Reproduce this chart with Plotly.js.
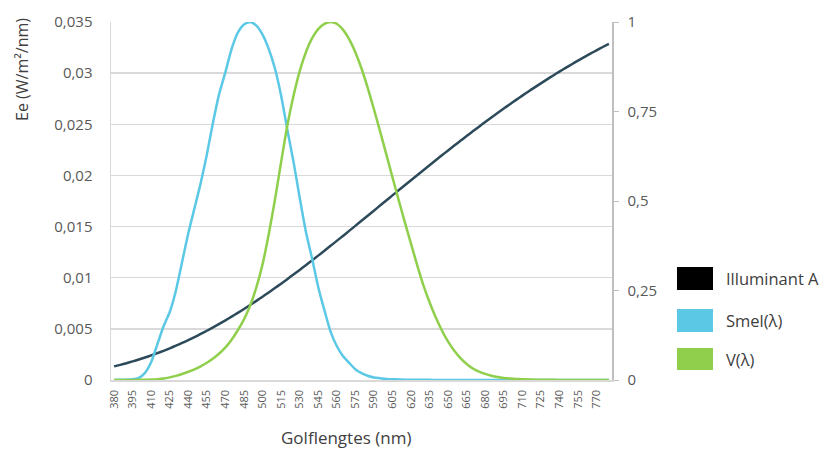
<!DOCTYPE html>
<html>
<head>
<meta charset="utf-8">
<script src="https://cdn.plot.ly/plotly-3.0.1.min.js"></script>
<style>html,body{margin:0;padding:0;background:#fff;}#chart{width:824px;height:450px;}</style>
</head>
<body>
<div id="chart"></div>
<script>
// Wavelengths (nm), 5 nm steps
const wavelengths = [380,385,390,395,400,405,410,415,420,425,430,435,440,445,450,455,460,465,470,475,480,485,490,495,500,505,510,515,520,525,530,535,540,545,550,555,560,565,570,575,580,585,590,595,600,605,610,615,620,625,630,635,640,645,650,655,660,665,670,675,680,685,690,695,700,705,710,715,720,725,730,735,740,745,750,755,760,765,770,775,780];

// Illuminant A, Ee (W/m²/nm) – left axis
const illuminantA = [0.001332,0.001482,0.001644,0.001816,0.002000,0.002196,0.002404,0.002624,0.002855,0.003099,0.003355,0.003623,0.003904,0.004196,0.004500,0.004815,0.005142,0.005481,0.005830,0.006190,0.006561,0.006942,0.007332,0.007732,0.008141,0.008559,0.008985,0.009418,0.009859,0.010307,0.010762,0.011223,0.011689,0.012160,0.012636,0.013116,0.013600,0.014087,0.014577,0.015069,0.015563,0.016059,0.016555,0.017052,0.017550,0.018047,0.018543,0.019038,0.019532,0.020024,0.020514,0.021001,0.021485,0.021966,0.022444,0.022917,0.023387,0.023852,0.024313,0.024768,0.025218,0.025663,0.026103,0.026536,0.026963,0.027385,0.027800,0.028208,0.028610,0.029004,0.029392,0.029773,0.030147,0.030513,0.030872,0.031224,0.031568,0.031904,0.032233,0.032554,0.032868];

// Smel(λ) – right axis
const smel = [0.0,0.0005,0.001,0.002,0.006,0.02,0.05,0.10,0.15,0.19,0.25,0.33,0.41,0.48,0.55,0.63,0.72,0.80,0.86,0.925,0.97,0.993,1.0,0.99,0.965,0.925,0.87,0.795,0.70,0.61,0.51,0.415,0.34,0.26,0.195,0.135,0.095,0.067,0.048,0.03,0.019,0.012,0.007,0.005,0.003,0.002,0.0015,0.001,0.0008,0.0006,0.0005,0.0004,0.0003,0.0003,0.0002,0.0002,0.0002,0.0001,0.0001,0.0001,0.0001,0.0001,0.0001,0.0001,0.0,0.0,0.0,0.0,0.0,0.0,0.0,0.0,0.0,0.0,0.0,0.0,0.0,0.0,0.0,0.0,0.0];

// V(λ) – right axis
const vLambda = [0.000039,0.000064,0.00012,0.000217,0.000396,0.00064,0.00121,0.00218,0.004,0.0073,0.0116,0.01684,0.023,0.0298,0.038,0.048,0.06,0.0739,0.09098,0.1126,0.13902,0.1693,0.20802,0.2586,0.323,0.4073,0.503,0.6082,0.71,0.7932,0.862,0.91485,0.954,0.9803,0.99495,1.0,0.995,0.9786,0.952,0.9154,0.87,0.8163,0.757,0.6949,0.631,0.5668,0.503,0.4412,0.381,0.321,0.265,0.217,0.175,0.1382,0.107,0.0816,0.061,0.04458,0.032,0.0232,0.017,0.01192,0.00821,0.005723,0.004102,0.002929,0.002091,0.001484,0.001047,0.00074,0.00052,0.000361,0.000249,0.000172,0.00012,0.0000848,0.00006,0.0000424,0.00003,0.0000212,0.000015];

const xTickLabels = [380,395,410,425,440,455,470,485,500,515,530,545,560,575,590,605,620,635,650,665,680,695,710,725,740,755,770];
const seriesNames = ["Illuminant A","Smel(λ)","V(λ)"];
const legendColors = ["#000000","#5BC8E6","#8FCF4C"];
const lineColors = ["#2C4A5A","#5BC8E6","#8FCF4C"];

const FONT = "Open Sans, sans-serif";
const traces = [
  {x: wavelengths, y: illuminantA, name: seriesNames[0], type: "scatter", mode: "lines",
   line: {color: lineColors[0], width: 2.5, shape: "spline", smoothing: 0.6}, yaxis: "y", showlegend: false},
  {x: wavelengths, y: smel, name: seriesNames[1], type: "scatter", mode: "lines",
   line: {color: lineColors[1], width: 2.5, shape: "spline", smoothing: 0.6}, yaxis: "y2", showlegend: false},
  {x: wavelengths, y: vLambda, name: seriesNames[2], type: "scatter", mode: "lines",
   line: {color: lineColors[2], width: 2.5, shape: "spline", smoothing: 0.6}, yaxis: "y2", showlegend: false}
];

// legend drawn as swatches + text
const legY = [[0.2514,0.3156],[0.1341,0.1983],[0.0279,0.0894]];
const shapes = legY.map((r,i)=>({type:"rect", xref:"paper", yref:"paper", x0:1.1297, x1:1.2016, y0:r[0], y1:r[1],
  fillcolor: legendColors[i], line:{width:0}}));
const annotations = legY.map((r,i)=>({xref:"paper", yref:"paper", x:1.2236, y:(r[0]+r[1])/2, xanchor:"left", yanchor:"middle",
  text: seriesNames[i], showarrow:false, font:{family:FONT, size:16.5, color:"#404040"}}));
annotations.push({xref:"paper", yref:"paper", x:-0.1776, y:0.866, textangle:-90, xanchor:"center", yanchor:"middle",
  text:"Ee (W/m²/nm)", showarrow:false, font:{family:FONT, size:16, color:"#404040"}});
annotations.push({xref:"paper", yref:"paper", x:0.469, y:-0.162, xanchor:"center", yanchor:"middle",
  text:"Golflengtes (nm)", showarrow:false, font:{family:FONT, size:17, color:"#404040"}});

const layout = {
  width: 824, height: 450,
  margin: {l:111, r:212, t:22, b:70},
  paper_bgcolor: "#fff", plot_bgcolor: "#fff",
  separators: ",.",
  showlegend: false,
  font: {family: FONT, color: "#595959"},
  xaxis: {type:"category", range:[-0.5, 80.5], tickmode:"array", tickvals: xTickLabels, ticktext: xTickLabels.map(String),
    tickangle:-90, tickfont:{size:11, color:"#595959"}, showgrid:false, showline:true, linecolor:"#D9D9D9", linewidth:1.5,
    ticks:"outside", ticklen:4, tickcolor:"rgba(0,0,0,0)", zeroline:false, fixedrange:true},
  yaxis: {range:[0,0.035], dtick:0.005, tick0:0, showgrid:true, gridcolor:"#D9D9D9", gridwidth:1.5, showline:true,
    linecolor:"#D9D9D9", linewidth:1.5, zeroline:false, ticks:"outside", ticklen:14, tickcolor:"rgba(0,0,0,0)",
    tickfont:{size:15, color:"#595959"}},
  yaxis2: {overlaying:"y", side:"right", range:[0,1], dtick:0.25, tick0:0, showgrid:false, showline:true,
    linecolor:"#BFBFBF", linewidth:1.5, ticks:"outside", ticklen:5, tickcolor:"#BFBFBF", zeroline:false,
    ticklabelstandoff:6, tickfont:{size:15, color:"#595959"}},
  shapes: shapes,
  annotations: annotations
};
Plotly.newPlot("chart", traces, layout, {staticPlot:true, displayModeBar:false});
</script>
</body>
</html>
